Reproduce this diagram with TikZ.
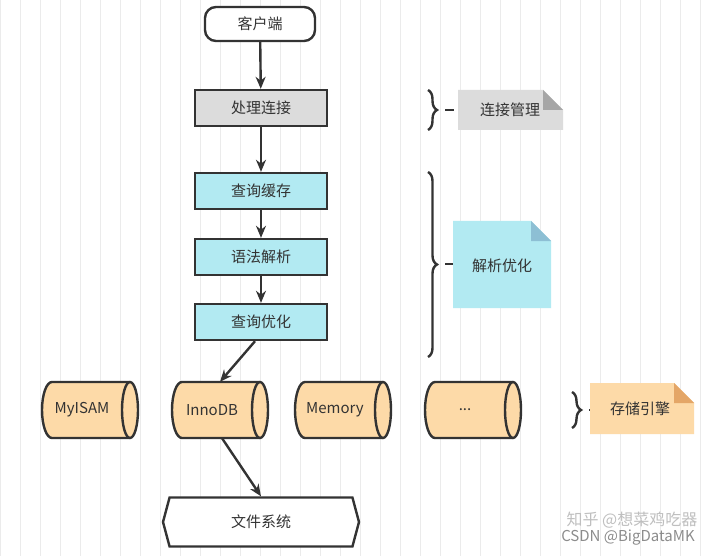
\documentclass[tikz,border=0pt]{standalone}
\usepackage{fontspec}
\setmainfont{Noto Sans CJK SC}
\usetikzlibrary{shapes.geometric,shapes.symbols,decorations.pathreplacing,arrows.meta}
\definecolor{gfill}{HTML}{DCDCDC}
\definecolor{cfill}{HTML}{B2EAF2}
\definecolor{ofill}{HTML}{FDDAA8}
\definecolor{dk}{HTML}{333333}
\newcommand{\mycyl}[3]{%
  \fill[ofill] (#2-38,382) -- (#2+40,382) arc[start angle=-90,end angle=90,x radius=8,y radius=28] -- (#2-38,438) arc[start angle=90,end angle=270,x radius=10,y radius=28] -- cycle;
  \draw[cylline] (#2-38,382) -- (#2+40,382) arc[start angle=-90,end angle=90,x radius=8,y radius=28] -- (#2-38,438) arc[start angle=90,end angle=270,x radius=10,y radius=28] -- cycle;
  \draw[cylline] (#2+40,382) arc[start angle=-90,end angle=-270,x radius=8,y radius=28];
  \node[minimum width=96pt,minimum height=56pt] (#1) at (#2,410) {};
  \node[font=\fontsize{15}{17}\selectfont,text=dk,inner sep=0pt] (#1t) at (#2-8,410) {#3};
}
\begin{document}
\begin{tikzpicture}[x=1pt,y=-1pt,
  box/.style={draw=dk,line width=2.4pt,minimum width=132pt,minimum height=36pt,font=\fontsize{15}{17}\selectfont,text=dk},
  cylline/.style={draw=dk,line width=2.4pt},
  arr/.style={-{Stealth[length=12pt,width=10pt]},line width=2.4pt,draw=dk},
  brace/.style={decorate,decoration={brace,amplitude=9pt},line width=2.4pt,draw=dk},
  note/.style={font=\fontsize{15}{17}\selectfont,text=dk}]
\useasboundingbox (0,0) rectangle (720,556);
\fill[white] (0,0) rectangle (720,556);
\draw[black!8,line width=0.6pt] (0,0) grid[step=20] (720,556);
\node[box,rounded corners=11pt,fill=white,minimum width=110pt,minimum height=34pt] (cli) at (260,24) {客户端};
\node[box,fill=gfill] (conn) at (261,108) {处理连接};
\node[box,fill=cfill] (cache) at (261,191) {查询缓存};
\node[box,fill=cfill] (parse) at (261,257) {语法解析};
\node[box,fill=cfill] (opt) at (261,322) {查询优化};
\mycyl{my}{90}{MyISAM}
\mycyl{inno}{220}{InnoDB}
\mycyl{mem}{343}{Memory}
\mycyl{etc}{473}{...}
\node[draw=dk,line width=2.4pt,fill=white,minimum width=196pt,minimum height=49pt,signal,signal to=east and west,signal pointer angle=150,font=\fontsize{15}{17}\selectfont,text=dk] (fs) at (261,522) {文件系统};
\draw[arr] (cli) -- (conn);
\draw[arr] (conn) -- (cache);
\draw[arr] (cache) -- (parse);
\draw[arr] (parse) -- (opt);
\coordinate (o1) at ([xshift=-6pt]opt.south);
\draw[arr] (o1) -- (inno.north);
\coordinate (i1) at ([xshift=2pt]inno.south);
\draw[arr] (i1) -- (fs.north);
% braces
\coordinate (b1a) at (428,90); \coordinate (b1b) at (428,130);
\draw[brace] (b1a) -- (b1b);
\coordinate (b2a) at (428,172); \coordinate (b2b) at (428,357);
\draw[brace] (b2a) -- (b2b);
\coordinate (b3a) at (572,392); \coordinate (b3b) at (572,428);
\draw[brace] (b3a) -- (b3b);
\draw[line width=2.4pt,draw=dk] (445,110) -- (454,110);
\draw[line width=2.4pt,draw=dk] (445,264) -- (453,264);
\draw[line width=2.4pt,draw=dk] (589,410) -- (594,410);
% notes
\fill[gfill] (458,90) -- (543,90) -- (563,110) -- (563,130) -- (458,130) -- cycle;
\fill[black!35] (543,90) -- (563,110) -- (543,110) -- cycle;
\node[note] (n1) at (510,110) {连接管理};
\fill[cfill] (453,221) -- (531,221) -- (551,241) -- (551,308) -- (453,308) -- cycle;
\fill[cyan!50!gray!70] (531,221) -- (551,241) -- (531,241) -- cycle;
\node[note] (n2) at (502,266) {解析优化};
\fill[ofill] (590,383) -- (674,383) -- (694,403) -- (694,434) -- (590,434) -- cycle;
\fill[brown!60!orange!70] (674,383) -- (694,403) -- (674,403) -- cycle;
\node[note] (n3) at (640,409) {存储引擎};
\node[text=black!25,font=\fontsize{16}{18}\selectfont] (w1) at (632,520) {知乎 @想菜鸡吃器};
\node[text=black!45,font=\fontsize{15}{17}\selectfont] (w2) at (628,538) {CSDN @BigDataMK};
\end{tikzpicture}
\end{document}
